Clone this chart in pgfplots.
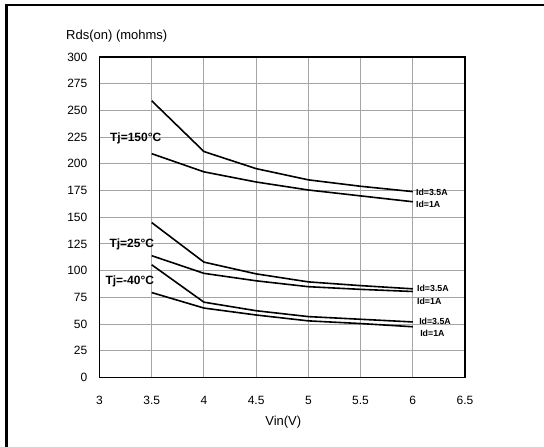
\documentclass[border=0pt]{standalone}
\usepackage{fontspec}
\setmainfont{Liberation Sans}
\usepackage{pgfplots}
\pgfplotsset{compat=1.18}
\definecolor{gridgray}{RGB}{165,165,165}
\begin{document}
\begin{tikzpicture}[x=1pt,y=1pt]
\useasboundingbox (0,0) rectangle (544,447);
\draw[line width=2.4pt] (6.3,-3) -- (6.3,441.8) -- (548,441.8);
\begin{axis}[
  at={(99.5pt,69.5pt)}, anchor=south west,
  scale only axis, width=365.5pt, height=320.5pt,
  xmin=3, xmax=6.5, ymin=0, ymax=300,
  xtick={3,3.5,...,6.5}, ytick={0,25,...,300},
  grid=major, major grid style={gridgray, line width=1pt},
  major tick length=0pt,
  axis line style={black, line width=1.4pt},
  /pgf/number format/assume math mode=true,
  /pgf/number format/fixed,
  ticklabel style={font=\fontsize{12}{14}\selectfont, inner sep=0pt},
  xticklabel style={anchor=north, yshift=-18.5pt},
  yticklabel style={anchor=east, xshift=-12pt},
  clip=false,
]
\addplot[black, line width=1.6pt] coordinates {(3.5,259) (4,211.5) (4.5,195.5) (5,185) (5.5,179) (6,174)};
\addplot[black, line width=1.6pt] coordinates {(3.5,209.5) (4,192.5) (4.5,183) (5,175.5) (5.5,170) (6,164.5)};
\addplot[black, line width=1.6pt] coordinates {(3.5,145) (4,108) (4.5,97) (5,89.5) (5.5,86) (6,83)};
\addplot[black, line width=1.6pt] coordinates {(3.5,114) (4,97.5) (4.5,90.5) (5,85) (5.5,82.5) (6,80.5)};
\addplot[black, line width=1.6pt] coordinates {(3.5,105.5) (4,70.5) (4.5,62.5) (5,57) (5.5,54.5) (6,52)};
\addplot[black, line width=1.6pt] coordinates {(3.5,79.5) (4,65) (4.5,58.5) (5,53) (5.5,50.5) (6,47.5)};
\begin{scope}[every node/.style={inner sep=0pt, anchor=west, font=\fontsize{12}{14}\selectfont\bfseries}]
\node at (axis cs:3.10,224) {Tj=150°C};
\node at (axis cs:3.094,124.7) {Tj=25°C};
\node at (axis cs:3.056,90.4) {Tj=-40°C};
\end{scope}
\begin{scope}[every node/.style={inner sep=0pt, anchor=west, font=\fontsize{8.8}{10}\selectfont\bfseries}]
\node at (axis cs:6.03,173) {Id=3.5A};
\node at (axis cs:6.03,162.5) {Id=1A};
\node at (axis cs:6.04,83.5) {Id=3.5A};
\node at (axis cs:6.04,71) {Id=1A};
\node at (axis cs:6.06,52.9) {Id=3.5A};
\node at (axis cs:6.07,41.6) {Id=1A};
\end{scope}
\end{axis}
\node[anchor=west, inner sep=0pt, font=\fontsize{13}{15}\selectfont] at (66,411.3) {Rds(on) (mohms)};
\node[inner sep=0pt, font=\fontsize{13}{15}\selectfont] at (283.3,24.7) {Vin(V)};
\end{tikzpicture}
\end{document}
